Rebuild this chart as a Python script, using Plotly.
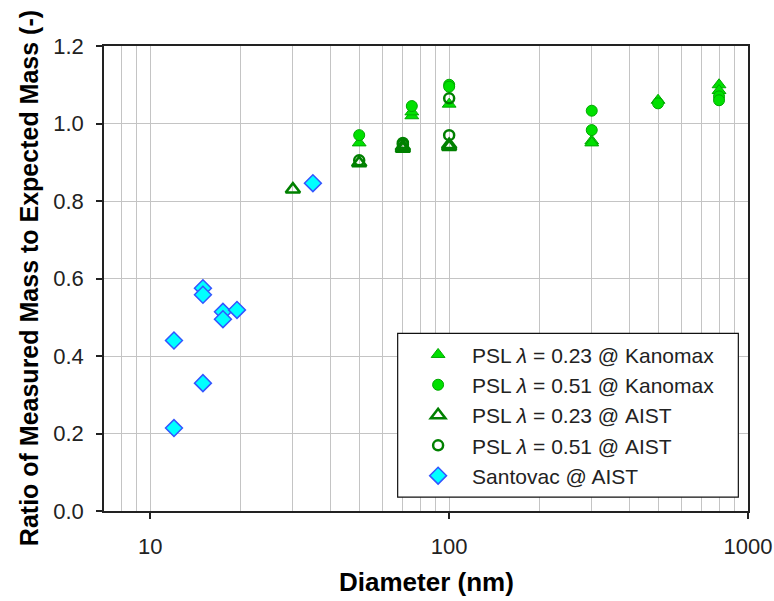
import plotly.graph_objects as go

# ---- data ----
kan_tri_x = [50, 75, 75, 100, 300, 300, 500, 800, 800]
kan_tri_y = [0.95, 1.02, 1.03, 1.05, 0.955, 0.95, 1.06, 1.10, 1.085]

kan_cir_x = [50, 75, 100, 100, 300, 300, 500, 800, 800]
kan_cir_y = [0.97, 1.045, 1.10, 1.095, 1.033, 0.983, 1.052, 1.07, 1.06]

aist_tri_x = [30, 50, 70, 70, 100, 100]
aist_tri_y = [0.83, 0.898, 0.94, 0.935, 0.94, 0.945]

aist_cir_x = [50, 70, 70, 100, 100]
aist_cir_y = [0.905, 0.95, 0.945, 1.065, 0.97]

sant_x = [12, 12, 15, 15, 15, 17.5, 17.5, 19.5, 35]
sant_y = [0.44, 0.214, 0.575, 0.558, 0.330, 0.514, 0.495, 0.519, 0.846]

names = [
    "PSL <i>λ</i> = 0.23 @ Kanomax",
    "PSL <i>λ</i> = 0.51 @ Kanomax",
    "PSL <i>λ</i> = 0.23 @ AIST",
    "PSL <i>λ</i> = 0.51 @ AIST",
    "Santovac @ AIST",
]

x_major = [10, 100, 1000]
x_minor = [7, 8, 9, 20, 30, 40, 50, 60, 70, 80, 90,
           200, 300, 400, 500, 600, 700, 800, 900]
y_ticks = [0.0, 0.2, 0.4, 0.6, 0.8, 1.0, 1.2]

FONT = "Liberation Sans, Arial, sans-serif"
LIME = "#00e000"
LIME_EDGE = "#00a800"
DKGREEN = "#008000"

fig = go.Figure()
fig.add_trace(go.Scatter(x=kan_tri_x, y=kan_tri_y, mode="markers", name=names[0],
                         legendgroup="a",
                         marker=dict(symbol="triangle-up", size=12, color=LIME,
                                     line=dict(color=LIME_EDGE, width=1))))
fig.add_trace(go.Scatter(x=kan_cir_x, y=kan_cir_y, mode="markers", name=names[1],
                         legendgroup="b",
                         marker=dict(symbol="circle", size=11, color=LIME,
                                     line=dict(color=LIME_EDGE, width=1))))
fig.add_trace(go.Scatter(x=aist_tri_x, y=aist_tri_y, mode="markers", name=names[2],
                         legendgroup="c",
                         marker=dict(symbol="triangle-up-open", size=12.5, color=DKGREEN,
                                     line=dict(color=DKGREEN, width=2.6))))
fig.add_trace(go.Scatter(x=aist_cir_x, y=aist_cir_y, mode="markers", name=names[3],
                         legendgroup="d",
                         marker=dict(symbol="circle-open", size=10, color=DKGREEN,
                                     line=dict(color=DKGREEN, width=2.5))))
fig.add_trace(go.Scatter(x=sant_x, y=sant_y, mode="markers", name=names[4],
                         legendgroup="e",
                         marker=dict(symbol="diamond", size=13, color="#00ffff",
                                     line=dict(color="#3355ff", width=1.5))))

fig.update_layout(
    width=774, height=601,
    margin=dict(l=104, r=26, t=46, b=90, autoexpand=False),
    paper_bgcolor="white", plot_bgcolor="white",
    font=dict(family=FONT, color="#222222"),
    showlegend=True,
    legend=dict(x=0.466, y=0.38, xanchor="left", yanchor="top",
                bgcolor="rgba(0,0,0,0)", borderwidth=0,
                font=dict(size=21, family=FONT, color="#222222"),
                itemwidth=58, tracegroupgap=0, traceorder="grouped"),
    xaxis=dict(type="log", range=[0.845, 3.0], automargin=False,
               tickmode="array", tickvals=x_major, ticktext=["10", "100", "1000"],
               ticks="outside", ticklen=6, tickcolor="#222", tickwidth=1.5,
               ticklabelstandoff=9,
               tickfont=dict(size=22, family=FONT, color="#222222"),
               showgrid=True, gridcolor="#c4c4c4", gridwidth=1.3,
               minor=dict(tickmode="array", tickvals=x_minor, showgrid=True,
                          gridcolor="#c4c4c4", gridwidth=1.3, ticks=""),
               showline=True, mirror=True, linecolor="#222", linewidth=1.5,
               zeroline=False),
    yaxis=dict(range=[0, 1.2], tickmode="array", tickvals=y_ticks,
               tickformat=".1f", automargin=False,
               ticks="outside", ticklen=6, tickcolor="#222", tickwidth=1.5,
               ticklabelstandoff=8,
               tickfont=dict(size=22, family=FONT, color="#222222"),
               showgrid=True, gridcolor="#c4c4c4", gridwidth=1.3,
               showline=True, mirror=True, linecolor="#222", linewidth=1.5,
               zeroline=False),
    shapes=[dict(type="rect", xref="paper", yref="paper",
                 x0=0.456, x1=0.985, y0=0.030, y1=0.382,
                 line=dict(color="#111", width=1.2), fillcolor="white",
                 layer="above")],
    annotations=[
        dict(text="<b>Diameter (nm)</b>", xref="paper", yref="paper",
             x=0.5, y=-0.152, xanchor="center", yanchor="middle",
             showarrow=False, font=dict(size=26, family=FONT, color="black")),
        dict(text="<b>Ratio of Measured Mass to Expected Mass (-)</b>",
             xref="paper", yref="paper", x=-0.117, y=0.5,
             xanchor="center", yanchor="middle", textangle=-90,
             showarrow=False, font=dict(size=25, family=FONT, color="black")),
    ],
)

fig.write_html("out.html")
